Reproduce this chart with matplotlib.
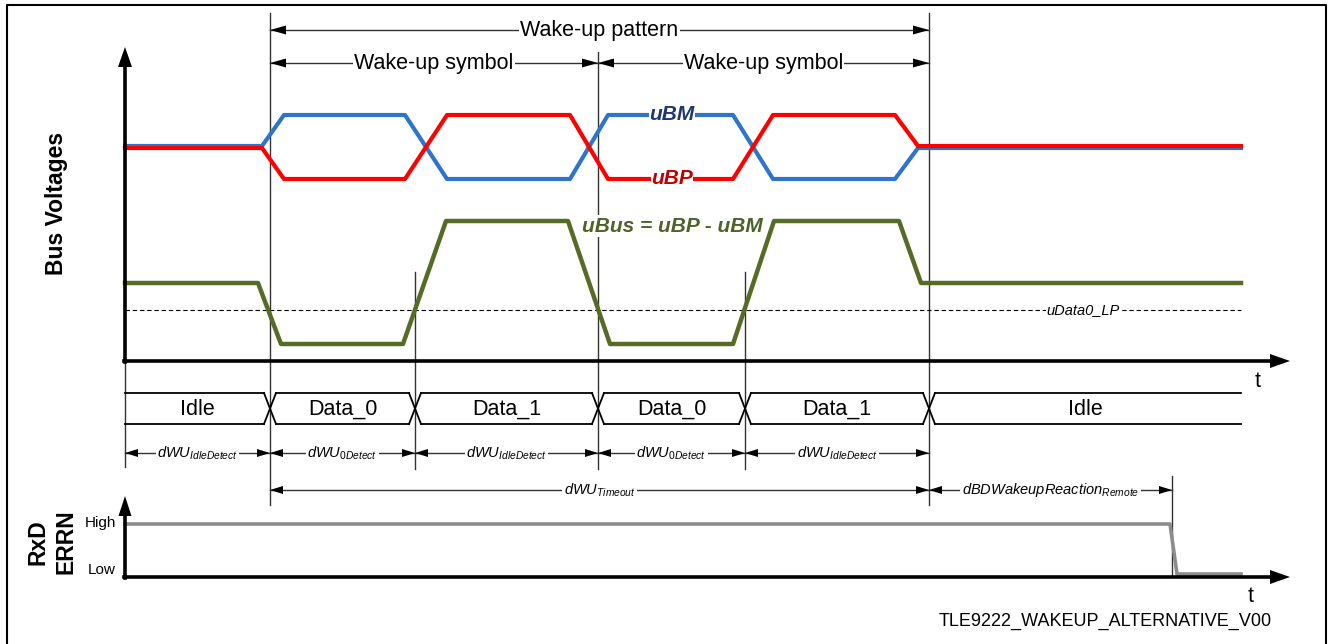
import matplotlib
matplotlib.use('Agg')
import matplotlib.pyplot as plt

plt.rcParams['font.family'] = ['Liberation Sans', 'DejaVu Sans']
plt.rcParams['mathtext.fontset'] = 'custom'
plt.rcParams['mathtext.it'] = 'Liberation Sans:italic'
plt.rcParams['mathtext.rm'] = 'Liberation Sans'

# phase boundaries on the time axis (diagram units)
t_start, t_end = 125, 1241
bounds = [270, 415, 598, 745, 929]
states = ['Idle', 'Data_0', 'Data_1', 'Data_0', 'Data_1', 'Idle']
dim_labels = [r'$\mathit{dWU}_{\mathit{IdleDetect}}$', r'$\mathit{dWU}_{\mathit{0Detect}}$',
              r'$\mathit{dWU}_{\mathit{IdleDetect}}$', r'$\mathit{dWU}_{\mathit{0Detect}}$',
              r'$\mathit{dWU}_{\mathit{IdleDetect}}$']
t_reaction = 1172

# waveforms (time, level)
ubm_t = [125, 262, 284, 405, 447, 570, 608, 733, 773, 895, 918, 1241]
ubm_v = [146, 146, 115, 115, 179, 179, 115, 115, 179, 179, 148, 148]
ubp_t = [125, 262, 284, 405, 447, 570, 608, 733, 773, 895, 918, 1241]
ubp_v = [148, 148, 179, 179, 115, 115, 179, 179, 115, 115, 146, 146]
ubus_t = [125, 258, 281, 403, 446, 568, 610, 733, 774, 899, 921, 1241]
ubus_v = [283, 283, 344, 344, 221, 221, 344, 344, 221, 221, 283, 283]
u_thr = 310
rxd_t = [125, 1170, 1177, 1241]
rxd_v = [524, 524, 574, 574]

fig = plt.figure(figsize=(13.32, 6.44), dpi=100)
ax = fig.add_axes([0, 0, 1, 1])
ax.set_xlim(0, 1332)
ax.set_ylim(644, 0)
ax.axis('off')


def head(x, y, d, ln=16, w=9, c='black'):
    # filled triangle with its tip at (x, y), pointing in direction d
    if d == 'r':
        ax.fill([x, x - ln, x - ln], [y, y - w / 2, y + w / 2], color=c, lw=0, zorder=5)
    elif d == 'l':
        ax.fill([x, x + ln, x + ln], [y, y - w / 2, y + w / 2], color=c, lw=0, zorder=5)
    elif d == 'u':
        ax.fill([x, x - w / 2, x + w / 2], [y, y + ln, y + ln], color=c, lw=0, zorder=5)


def dim(x0, x1, y, label, size=10, ln=14, w=8, fs=15.5, italic=False):
    ax.plot([x0, x1], [y, y], color='#333333', lw=1.0, zorder=3)
    head(x0, y, 'l', ln, w)
    head(x1, y, 'r', ln, w)
    ax.text((x0 + x1) / 2, y, label, ha='center', va='center', fontsize=fs,
            style='italic' if italic else 'normal',
            bbox=dict(facecolor='white', edgecolor='none', pad=1), zorder=4)


# frame
ax.plot([7, 7, 1326, 1326], [650, 5, 5, 650], color='black', lw=1.5)

# vertical markers
vlines = [(270, 13, 505), (415, 272, 469), (598, 52, 469), (745, 272, 469),
          (929, 13, 505), (125, 362, 467), (t_reaction, 476, 577)]
for x, y0, y1 in vlines:
    ax.plot([x, x], [y0, y1], color='#333333', lw=1.0, zorder=1)

# pattern / symbol arrows
dim(bounds[0], bounds[4], 30, 'Wake-up pattern', ln=16, w=9)
dim(bounds[0], bounds[2], 63, 'Wake-up symbol', ln=16, w=9)
dim(bounds[2], bounds[4], 63, 'Wake-up symbol', ln=16, w=9)

# bus voltage axes
ax.plot([125, 125], [362, 60], color='black', lw=2.6, zorder=6)
head(125, 47, 'u', 20, 14)
ax.plot([124, 1275], [361, 361], color='black', lw=2.6, zorder=6)
head(1290, 361, 'r', 20, 14)
ax.text(1258, 381, 't', ha='center', va='center', fontsize=15.5)
ax.text(57, 203, 'Bus Voltages', rotation=90, ha='center', va='center',
        fontsize=16.5, fontweight='bold')

# waveforms
ax.plot(ubm_t, ubm_v, color='#2E75C9', lw=3.0, solid_joinstyle='round', zorder=3)
ax.plot(ubp_t, ubp_v, color='#FF0000', lw=3.0, solid_joinstyle='round', zorder=3)
ax.plot(ubus_t, ubus_v, color='#566b26', lw=3.2, solid_joinstyle='round', zorder=3)
ax.plot([t_start, t_end], [u_thr, u_thr], color='black', lw=0.8, dashes=(4, 2.5), zorder=2)

ax.text(672, 114, 'uBM', ha='center', va='center', fontsize=15, fontweight='bold',
        style='italic', color='#1F3870', bbox=dict(facecolor='white', edgecolor='none', pad=0), zorder=4)
ax.text(672, 178, 'uBP', ha='center', va='center', fontsize=15, fontweight='bold',
        style='italic', color='#C00000', bbox=dict(facecolor='white', edgecolor='none', pad=0), zorder=4)
ax.text(672, 226, 'uBus = uBP - uBM', ha='center', va='center', fontsize=15, fontweight='bold',
        style='italic', color='#4F6228', bbox=dict(facecolor='white', edgecolor='none', pad=1), zorder=4)
ax.text(1083, 310, 'uData0_LP', ha='center', va='center', fontsize=10.5, style='italic',
        bbox=dict(facecolor='white', edgecolor='none', pad=0.5), zorder=4)

# bus state row
y_top, y_bot, dx = 393, 424, 6
edges = [t_start] + bounds + [t_end]
for i in range(len(states)):
    a = edges[i] + (dx if i > 0 else 0)
    b = edges[i + 1] - (dx if i < len(states) - 1 else 0)
    ax.plot([a, b], [y_top, y_top], color='black', lw=1.3)
    ax.plot([a, b], [y_bot, y_bot], color='black', lw=1.3)
    ax.text((edges[i] + edges[i + 1]) / 2, 409, states[i], ha='center', va='center', fontsize=15.5)
for x in bounds:
    ax.plot([x - dx, x + dx], [y_top, y_bot], color='black', lw=1.3)
    ax.plot([x - dx, x + dx], [y_bot, y_top], color='black', lw=1.3)

# detection time arrows
for i, lab in enumerate(dim_labels):
    dim(edges[i], edges[i + 1], 453, lab, ln=13, w=8, fs=10.5)
dim(bounds[0], bounds[4], 490, r'$\mathit{dWU}_{\mathit{Timeout}}$', ln=13, w=8, fs=10.5)
dim(bounds[4], t_reaction, 490, r'$\mathit{dBDWakeupReaction}_{\mathit{Remote}}$', ln=13, w=8, fs=10.5)

# RxD / ERRN
ax.plot([125, 125], [578, 512], color='black', lw=2.6, zorder=6)
head(125, 496, 'u', 20, 13)
ax.plot([124, 1275], [577, 577], color='black', lw=2.6, zorder=6)
head(1290, 577, 'r', 20, 14)
ax.plot(rxd_t, rxd_v, color='#8C8C8C', lw=2.6, solid_joinstyle='round', zorder=5)
ax.text(116, 523, 'High', ha='right', va='center', fontsize=11)
ax.text(116, 570, 'Low', ha='right', va='center', fontsize=11)
ax.text(38, 542, 'RxD', rotation=90, ha='center', va='center', fontsize=16.5, fontweight='bold')
ax.text(66, 542, 'ERRN', rotation=90, ha='center', va='center', fontsize=16.5, fontweight='bold')
ax.text(1251, 596, 't', ha='center', va='center', fontsize=15.5)
ax.text(1105, 621, 'TLE9222_WAKEUP_ALTERNATIVE_V00', ha='center', va='center', fontsize=13)

fig.savefig('out.png', dpi=100)
